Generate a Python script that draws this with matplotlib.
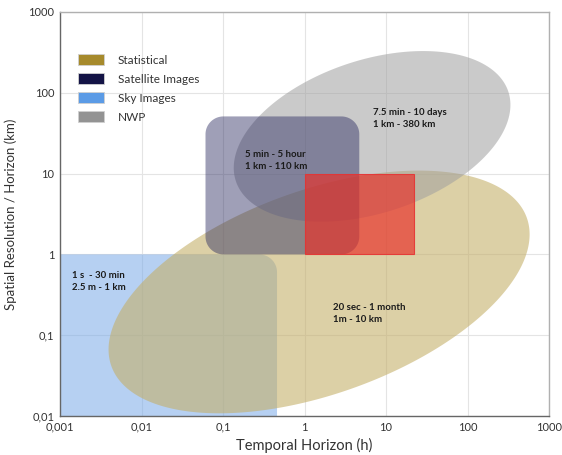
import numpy as np
import matplotlib
matplotlib.use("Agg")
import matplotlib.pyplot as plt
from matplotlib.patches import Patch

plt.rcParams['font.family'] = ['Lato', 'DejaVu Sans']

# Axis ticks
x_ticks = [0.001, 0.01, 0.1, 1, 10, 100, 1000]
x_tick_labels = ["0,001", "0,01", "0,1", "1", "10", "100", "1000"]
y_ticks = [0.01, 0.1, 1, 10, 100, 1000]
y_tick_labels = ["0,01", "0,1", "1", "10", "100", "1000"]

# Forecasting methods: legend entries
methods = ["Statistical", "Satellite Images", "Sky Images", "NWP"]
legend_colors = ["#a68a2c", "#141446", "#5b9be6", "#939393"]

# Sky images: temporal range (h) and spatial range (km)
sky_time = [0.001, 0.46]
sky_space = [0.01, 1]
# Satellite images
sat_time = [0.061, 4.7]
sat_space = [1, 51]
# Overlap highlight
red_time = [1, 21.8]
red_space = [1, 10]
# NWP ellipse: centre (h, km), semi-axes (decades), tilt (deg)
nwp_center = [6.75, 28.9]
nwp_axes = [1.761, 0.946]
nwp_tilt = 18.4
# Statistical ellipse
stat_center = [1.51, 0.343]
stat_axes = [2.709, 1.261]
stat_tilt = 19.9

# Region labels
labels_text = ["7.5 min - 10 days\n1 km - 380 km",
               "5 min - 5 hour\n1 km - 110 km",
               "1 s  - 30 min\n2.5 m - 1 km",
               "20 sec - 1 month\n1m - 10 km"]
labels_pos = [(6.9, 47.7), (0.185, 14.5), (0.00142, 0.466), (2.25, 0.186)]


def log_ellipse(center, axes, tilt, n=500):
    t = np.linspace(0, 2 * np.pi, n)
    th = np.radians(tilt)
    a, b = axes
    lx = np.log10(center[0]) + a * np.cos(t) * np.cos(th) - b * np.sin(t) * np.sin(th)
    ly = np.log10(center[1]) + a * np.cos(t) * np.sin(th) + b * np.sin(t) * np.cos(th)
    return 10 ** lx, 10 ** ly


def log_rounded_rect(xr, yr, r, corners=(True, True, True, True), n=30):
    # corners: bottom-left, bottom-right, top-right, top-left
    x0, x1 = np.log10(xr)
    y0, y1 = np.log10(yr)
    specs = [
        ((x1 - r, y0 + r), -90, (x1, y0), corners[1]),
        ((x1 - r, y1 - r), 0, (x1, y1), corners[2]),
        ((x0 + r, y1 - r), 90, (x0, y1), corners[3]),
        ((x0 + r, y0 + r), 180, (x0, y0), corners[0]),
    ]
    xs, ys = [], []
    for (cx, cy), start, corner, rounded in specs:
        if rounded:
            ang = np.radians(np.linspace(start, start + 90, n))
            xs.extend(cx + r * np.cos(ang))
            ys.extend(cy + r * np.sin(ang))
        else:
            xs.append(corner[0])
            ys.append(corner[1])
    return 10 ** np.array(xs), 10 ** np.array(ys)


fig = plt.figure(figsize=(5.62, 4.55), dpi=100)
ax = fig.add_axes([60 / 562, 1 - 416 / 455, 489 / 562, 404 / 455])
ax.set_xscale('log')
ax.set_yscale('log')
ax.set_xlim(x_ticks[0], x_ticks[-1])
ax.set_ylim(y_ticks[0], y_ticks[-1])

# Sky images
sx, sy = log_rounded_rect(sky_time, sky_space, 0.22, corners=(False, False, True, False))
ax.fill(sx, sy, color="#7aaae8", alpha=0.55, lw=0, zorder=2)

# Statistical
ex, ey = log_ellipse(stat_center, stat_axes, stat_tilt)
ax.fill(ex, ey, color="#c4ae66", alpha=0.58, lw=0, zorder=3)

# NWP
nx, ny = log_ellipse(nwp_center, nwp_axes, nwp_tilt)
ax.fill(nx, ny, color="#a0a0a0", alpha=0.55, lw=0, zorder=4)

# Satellite images
rx, ry = log_rounded_rect(sat_time, sat_space, 0.22)
ax.fill(rx, ry, color="#2a2a60", alpha=0.45, lw=0, zorder=5)

# Overlap highlight
ax.fill([red_time[0], red_time[1], red_time[1], red_time[0]],
        [red_space[0], red_space[0], red_space[1], red_space[1]],
        facecolor=(0.91, 0.19, 0.16, 0.68), edgecolor=(0.9, 0.2, 0.2, 0.9),
        lw=0.8, zorder=6)

for txt, (tx, ty) in zip(labels_text, labels_pos):
    ax.text(tx, ty, txt, fontsize=6.9, fontweight='bold', color="#1a1a1a",
            ha='left', va='center', linespacing=1.4, zorder=8)

# Grid and axes styling
ax.set_axisbelow(True)
ax.grid(True, which='major', color="#e4e4e4", lw=0.8)
ax.minorticks_off()
ax.set_xticks(x_ticks)
ax.set_xticklabels(x_tick_labels)
ax.set_yticks(y_ticks)
ax.set_yticklabels(y_tick_labels)
ax.tick_params(length=0, labelsize=8, colors="#333333", pad=4)
ax.spines['left'].set_color("#666666")
ax.spines['bottom'].set_color("#666666")
ax.spines['top'].set_color("#b0b0b0")
ax.spines['right'].set_color("#b0b0b0")
for s in ax.spines.values():
    s.set_linewidth(1.0)

ax.set_xlabel("Temporal Horizon (h)", fontsize=10.5, color="#333333")
ax.set_ylabel("Spatial Resolution / Horizon (km)", fontsize=9.5, color="#333333")
ax.xaxis.set_label_coords(0.5, -0.055)
ax.yaxis.set_label_coords(-0.088, 0.5)

handles = [Patch(facecolor=c, edgecolor="#d0d0d0", lw=0.6) for c in legend_colors]
leg = ax.legend(handles, methods, loc='upper left', bbox_to_anchor=(0.036, 0.896),
                frameon=False, fontsize=8.5, handlelength=2.2, handleheight=1.1,
                handletextpad=1.2, labelspacing=0.62, borderpad=0, borderaxespad=0)
for t in leg.get_texts():
    t.set_color("#333333")

fig.savefig("out.png", dpi=100)
